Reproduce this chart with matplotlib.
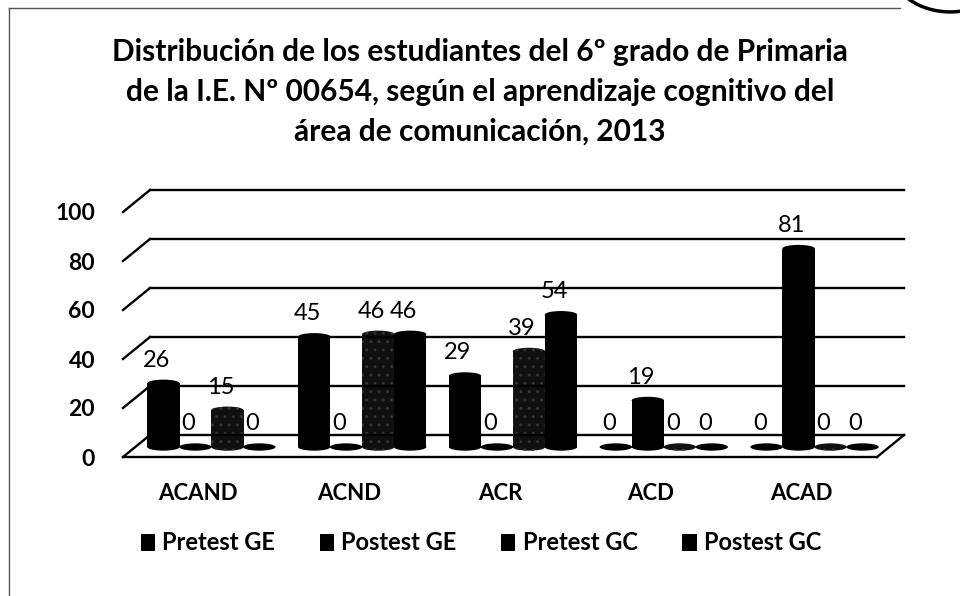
import matplotlib
matplotlib.use("Agg")
import matplotlib.pyplot as plt
import matplotlib.transforms as mtransforms
from matplotlib.patches import Rectangle, Ellipse, Arc
from matplotlib.lines import Line2D

plt.rcParams['font.family'] = ['Lato', 'DejaVu Sans']

categories = ['ACAND', 'ACND', 'ACR', 'ACD', 'ACAD']
series = ['Pretest GE', 'Postest GE', 'Pretest GC', 'Postest GC']
pretest_ge = [26, 45, 29, 0, 0]
postest_ge = [0, 0, 0, 19, 81]
pretest_gc = [15, 46, 39, 0, 0]
postest_gc = [0, 46, 54, 0, 0]
yticks = [0, 20, 40, 60, 80, 100]

title = ('Distribución de los estudiantes del 6º grado de Primaria\n'
         'de la I.E. Nº 00654, según el aprendizaje cognitivo del\n'
         'área de comunicación, 2013')

fig = plt.figure(figsize=(9.6, 5.96), dpi=100)
ax = fig.add_axes([123/960, 139/596, 754/960, 245/596])
ax.set_xlim(-0.5, 4.5)
ax.set_ylim(0, 100)
for s in ax.spines.values():
    s.set_visible(False)
ax.set_xticks(range(5))
ax.set_xticklabels(categories, fontsize=16, fontweight='bold')
ax.set_yticks(yticks)
ax.set_yticklabels([str(t) for t in yticks], fontsize=16.5, fontweight='bold')
ax.tick_params(length=0)
ax.tick_params(axis='x', pad=19)
ax.tick_params(axis='y', pad=20)

# depth offsets (pixels) for the fake 3d look
back = ax.transData + mtransforms.ScaledTranslation(0.27, 0.22, fig.dpi_scale_trans)
mid = ax.transData + mtransforms.ScaledTranslation(0.13, 0.10, fig.dpi_scale_trans)

lw = 1.7
for t in yticks:
    # diagonal from the front left edge to the wall
    p0 = ax.transData.transform((-0.5, t))
    p1 = back.transform((-0.5, t))
    ax.add_artist(Line2D([p0[0], p1[0]], [p0[1], p1[1]], transform=None,
                         color='black', lw=lw, clip_on=False))
    ax.plot([-0.5, 4.5], [t, t], transform=back, color='black', lw=lw, clip_on=False)

# floor
p0 = ax.transData.transform((4.5, 0))
p1 = back.transform((4.5, 0))
ax.add_artist(Line2D([p0[0], p1[0]], [p0[1], p1[1]], transform=None,
                     color='black', lw=lw, clip_on=False))
ax.plot([-0.5, 4.5], [0, 0], color='black', lw=lw, clip_on=False)

w = 0.215
cap = 3.0
data = [pretest_ge, postest_ge, pretest_gc, postest_gc]
for j, vals in enumerate(data):
    off = (j - 1.5) * 0.212
    for i, v in enumerate(vals):
        x = i + off
        if j == 2:
            kw = dict(facecolor='#101010', edgecolor='#333333', hatch='..', linewidth=0)
        else:
            kw = dict(facecolor='black', edgecolor='black', linewidth=0)
        if v > 0:
            ax.add_patch(Rectangle((x - w/2, 0), w, v, transform=mid, clip_on=False, **kw))
            ax.add_patch(Ellipse((x, v), w, cap, transform=mid, clip_on=False, **kw))
        ax.add_patch(Ellipse((x, 0), w, cap, transform=mid, clip_on=False, **kw))
        ax.annotate(str(v), xy=(x, v), xytext=(6, 33), textcoords='offset pixels',
                    ha='center', va='center', fontsize=17, color='black')

fig.text(0.5, 1 - 92/596, title, ha='center', va='center', fontsize=21.5,
         fontweight='bold', linespacing=1.5)

handles = [Rectangle((0, 0), 1, 1, facecolor='black') for _ in series]
fig.legend(handles, series, loc='center', bbox_to_anchor=(0.501, 1 - 543/596),
           ncol=4, frameon=False, prop={'size': 17, 'weight': 'bold'},
           handlelength=0.6, handleheight=0.7, handletextpad=0.3, columnspacing=1.9)

# chart border and the stamp corner
fig.add_artist(Line2D([9/960, 9/960], [0, 1 - 8/596], transform=fig.transFigure,
                      color='#555555', lw=1))
fig.add_artist(Line2D([9/960, 900/960], [1 - 8/596, 1 - 8/596], transform=fig.transFigure,
                      color='#555555', lw=1))
fig.add_artist(Arc((0.99, 1.05), 0.12, 0.14, theta1=180, theta2=360,
                   transform=fig.transFigure, color='black', lw=2.5))

fig.savefig('out.png', dpi=100)
